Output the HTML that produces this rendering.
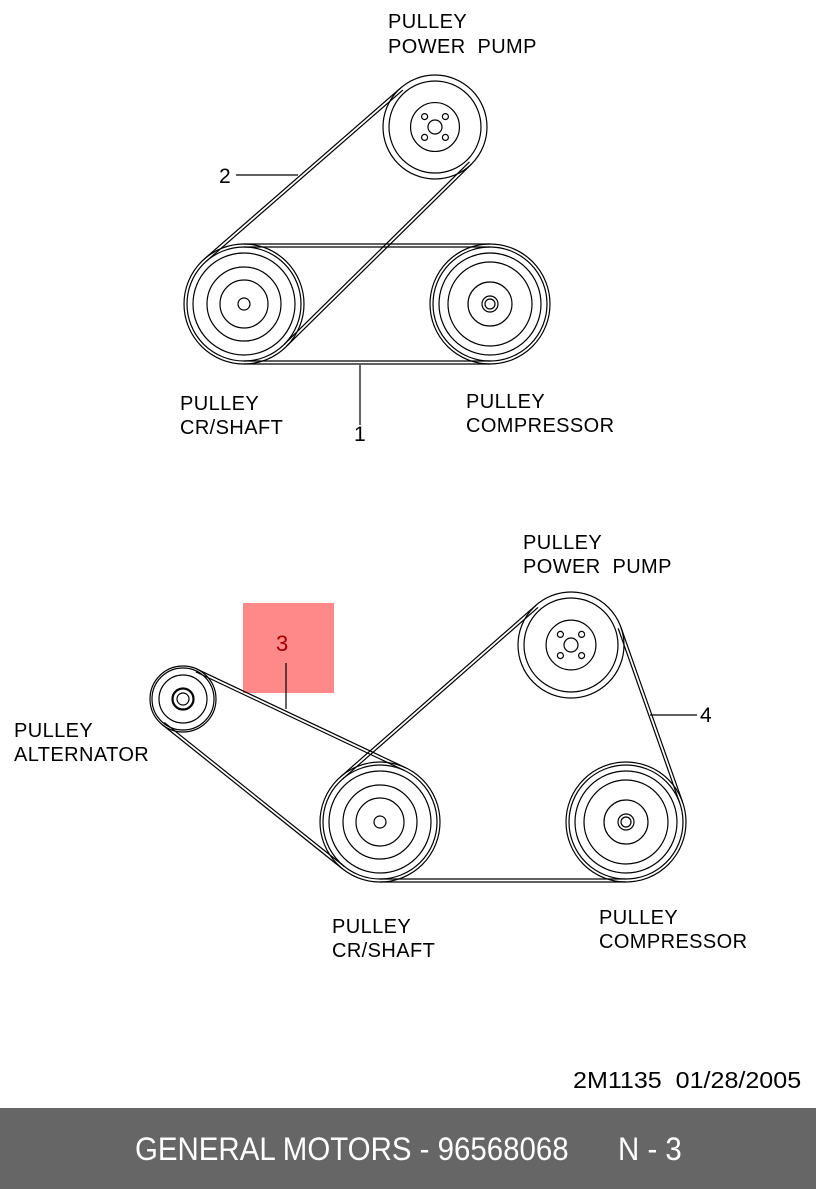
<!DOCTYPE html>
<html><head><meta charset="utf-8"><style>
html,body{margin:0;padding:0;background:#fff;}
body{width:816px;height:1189px;position:relative;overflow:hidden;font-family:"Liberation Sans",sans-serif;}
svg{position:absolute;left:0;top:0;}
.foot{position:absolute;left:0;top:1108px;width:816px;height:81px;background:#666;}
.ft{position:absolute;top:1133px;color:#fff;font-size:32px;white-space:pre;transform-origin:0 0;transform:scaleX(0.92);line-height:1;}
.code{position:absolute;left:573px;top:1069px;font-size:23px;transform-origin:0 0;transform:scaleX(1.09);white-space:pre;line-height:1;}
</style></head><body>
<svg id="s" width="816" height="1189" viewBox="0 0 816 1189" font-family="Liberation Sans, sans-serif" font-size="20" letter-spacing="0.4">
<rect x="243" y="603" width="91" height="90" fill="#ff8888"/>
<g fill="#000">
<text x="388" y="28">PULLEY</text><text x="388" y="53" xml:space="preserve">POWER  PUMP</text>
<text x="219" y="183" font-size="21">2</text>
<text x="354" y="441" font-size="21">1</text>
<text x="180" y="410">PULLEY</text><text x="180" y="434">CR/SHAFT</text>
<text x="466" y="408">PULLEY</text><text x="466" y="432">COMPRESSOR</text>
<text x="523" y="549">PULLEY</text><text x="523" y="573" xml:space="preserve">POWER  PUMP</text>
<text x="14" y="737">PULLEY</text><text x="14" y="761">ALTERNATOR</text>
<text x="700" y="722" font-size="21">4</text>
<text x="332" y="933">PULLEY</text><text x="332" y="957">CR/SHAFT</text>
<text x="599" y="924">PULLEY</text><text x="599" y="948">COMPRESSOR</text>
</g>
<text x="276" y="651" font-size="22" fill="#a00000">3</text>
<g id="g" fill="none" stroke="#000" stroke-width="1.2">
<line x1="236" y1="175" x2="298" y2="175"/>
<line x1="360" y1="365" x2="360" y2="425"/>
<line x1="286" y1="663" x2="286" y2="709"/>
<line x1="650" y1="715" x2="697" y2="715"/>
</g>
</svg>
<div class="code">2M1135  01/28/2005</div>
<div class="foot"></div>
<div class="ft" style="left:135px">GENERAL MOTORS - 96568068</div>
<div class="ft" style="left:618px">N - 3</div>
<script>
var g=document.getElementById('g'),NS='http://www.w3.org/2000/svg';
function c(x,y,r){var e=document.createElementNS(NS,'circle');e.setAttribute('cx',x);e.setAttribute('cy',y);e.setAttribute('r',r);g.appendChild(e);}
function l(a,b,d,e){var t=document.createElementNS(NS,'line');t.setAttribute('x1',a);t.setAttribute('y1',b);t.setAttribute('x2',d);t.setAttribute('y2',e);g.appendChild(t);}
function pump(x,y,R){c(x,y,R);c(x,y,R-6);c(x,y,R*0.47);c(x,y,7);var o=R*0.2;[[-1,-1],[1,-1],[-1,1],[1,1]].forEach(function(p){c(x+p[0]*o,y+p[1]*o,3);});}
function crank(x,y,R){c(x,y,R);c(x,y,R-3);c(x,y,R-9);c(x,y,R-23);c(x,y,R-36);c(x,y,6);}
function comp(x,y,R){c(x,y,R);c(x,y,R-3);c(x,y,R-9);c(x,y,R-18);c(x,y,R-38);c(x,y,8);c(x,y,5);}
function alt(x,y,R){c(x,y,R);c(x,y,R-2);c(x,y,R-9);c(x,y,R-22);c(x,y,10);c(x,y,6);}
function tan(p,q,s){var dx=q[0]-p[0],dy=q[1]-p[1],L=Math.hypot(dx,dy),ux=dx/L,uy=dy/L;
 [0,3].forEach(function(k){var a=p[2]-k,b=q[2]-k,cc=(a-b)/L,sn=Math.sqrt(1-cc*cc);
 var nx=ux*cc-s*uy*sn,ny=uy*cc+s*ux*sn;l(p[0]+a*nx,p[1]+a*ny,q[0]+b*nx,q[1]+b*ny);});}
var P1=[435,127,52],C1=[244,304,60],K1=[490,304,60];
pump(435,127,52);crank(244,304,60);comp(490,304,60);
tan(C1,K1,-1);tan(C1,K1,1);tan(C1,P1,1);tan(C1,P1,-1);
var A=[183,699,33],C2=[380,822,60],P2=[571,645,53],K2=[626,822,60];
alt(183,699,33);crank(380,822,60);pump(571,645,53);comp(626,822,60);
tan(A,C2,-1);tan(A,C2,1);tan(C2,P2,-1);tan(P2,K2,-1);tan(C2,K2,1);
</script>
</body></html>
